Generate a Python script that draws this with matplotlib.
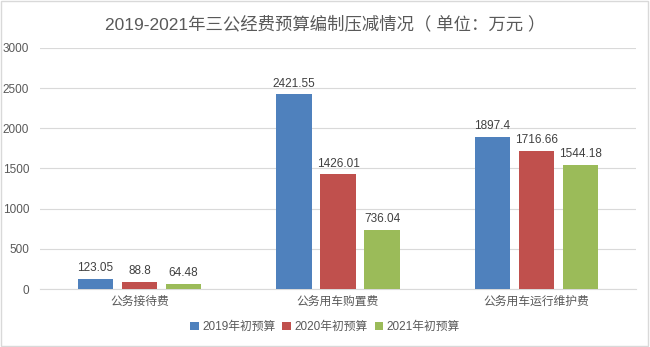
import matplotlib
matplotlib.use("Agg")
import matplotlib.pyplot as plt
import numpy as np

plt.rcParams['font.family'] = ['Liberation Sans', 'Noto Sans CJK SC', 'DejaVu Sans']

categories = ["公务接待费", "公务用车购置费", "公务用车运行维护费"]
series_names = ["2019年初预算", "2020年初预算", "2021年初预算"]
v2019 = [123.05, 2421.55, 1897.4]
v2020 = [88.8, 1426.01, 1716.66]
v2021 = [64.48, 736.04, 1544.18]
colors = ["#4f81bd", "#c0504d", "#9bbb59"]

fig = plt.figure(figsize=(6.5, 3.47), dpi=100)
ax = fig.add_axes([0.062, 0.167, 0.916, 0.695])

x = np.arange(len(categories))
width = 0.178
offsets = [-0.222, 0, 0.222]
for vals, name, c, off in zip([v2019, v2020, v2021], series_names, colors, offsets):
    bars = ax.bar(x + off, vals, width, color=c, label=name, zorder=3)
    for b, v in zip(bars, vals):
        ax.text(b.get_x() + b.get_width() / 2, v + 60, f"{v:g}",
                ha="center", va="bottom", fontsize=8.5, color="#404040")

ax.set_ylim(0, 3000)
ax.set_xlim(-0.5, 2.5)
ax.set_yticks(range(0, 3001, 500))
ax.yaxis.grid(True, color="#d9d9d9", linewidth=0.8, zorder=0)
ax.set_xticks(x)
ax.set_xticklabels(categories)
ax.tick_params(axis="both", length=0, labelsize=8.5, colors="#595959")
ax.tick_params(axis="y", pad=8)
ax.tick_params(axis="x", pad=5)
for s in ["top", "right", "left"]:
    ax.spines[s].set_visible(False)
ax.spines["bottom"].set_color("#d9d9d9")

fig.suptitle("2019-2021年三公经费预算编制压减情况（ 单位：万元 ）", y=0.955,
             fontsize=12.5, color="#595959")

fig.legend(loc="lower center", bbox_to_anchor=(0.5, 0.01), ncol=3, frameon=False,
           fontsize=8.5, handlelength=0.7, handleheight=0.7, handletextpad=0.3,
           columnspacing=0.6, labelcolor="#595959")

fig.patches.append(plt.Rectangle((0.002, 0.003), 0.995, 0.993, transform=fig.transFigure,
                                 fill=False, edgecolor="#d9d9d9", linewidth=1))

fig.savefig("out.png", dpi=100)
